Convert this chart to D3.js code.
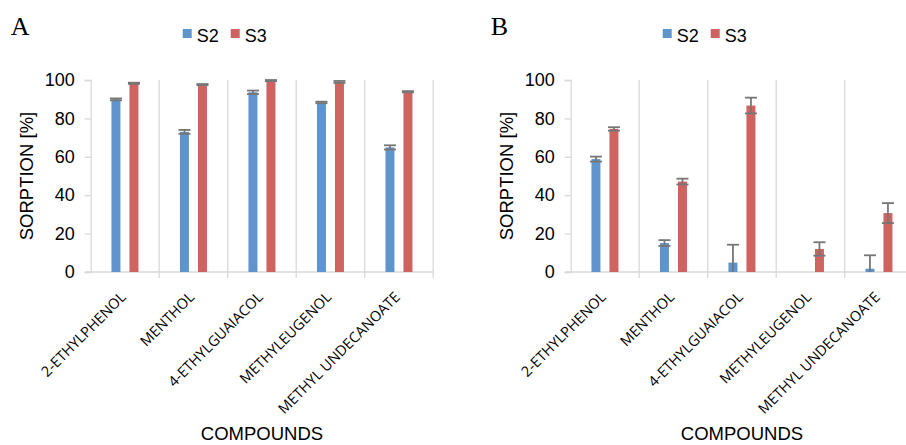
<!DOCTYPE html>
<html lang="en">
<head>
<meta charset="UTF-8">
<title>Sorption</title>
<script src="https://d3js.org/d3.v7.min.js"></script>
<style>
  body { margin: 0; background: #fff; }
  text { font-family: "Liberation Sans", Arial, sans-serif; fill: #000; }
</style>
</head>
<body>
<div id="chart"></div>
<script>
// compounds on the x axis
var compounds = ["2-ETHYLPHENOL", "MENTHOL", "4-ETHYLGUAIACOL", "METHYLEUGENOL", "METHYL UNDECANOATE"];
var seriesNames = ["S2", "S3"];
var yTicks = [0, 20, 40, 60, 80, 100];

// panel A
var s2A = [89.9, 73.0, 93.6, 88.3, 64.9];
var s3A = [98.3, 97.6, 99.7, 99.0, 93.9];
var s2AErr = [0.5, 1.0, 0.9, 0.4, 1.1];
var s3AErr = [0.3, 0.3, 0.3, 0.5, 0.3];

// panel B
var s2B = [58.8, 15.1, 4.9, 0, 1.7];
var s3B = [74.5, 47.1, 86.7, 12.0, 30.7];
var s2BErr = [1.3, 1.5, 9.3, 0, 7.0];
var s3BErr = [0.9, 1.5, 4.1, 3.5, 5.2];

var colors = { S2: "#5f95cc", S3: "#cf6360" };

var svg = d3.select("#chart").append("svg")
    .attr("width", 906)
    .attr("height", 445);

function drawPanel(left, label, s2, s3, s2Err, s3Err) {
    var plotW = 342.5, top = 80, bottom = 272;
    var g = svg.append("g").attr("transform", "translate(" + left + ",0)");

    var x = d3.scaleBand().domain(compounds).range([0, plotW]).padding(0);
    var xs = d3.scaleBand().domain(seriesNames).range([-13.5, 13.5]).paddingInner(0.5);
    var y = d3.scaleLinear().domain([0, 100]).range([bottom, top]);

    // vertical gridlines at category boundaries
    g.selectAll(".grid")
        .data(compounds)
        .enter().append("line")
        .attr("x1", function(d) { return x(d) + x.bandwidth(); })
        .attr("x2", function(d) { return x(d) + x.bandwidth(); })
        .attr("y1", top)
        .attr("y2", bottom + 6)
        .attr("stroke", "#d9d9d9")
        .attr("stroke-width", 1.3);

    // y axis
    var yAxis = g.append("g")
        .call(d3.axisLeft(y).tickValues(yTicks).tickSize(6).tickPadding(10));
    yAxis.select(".domain").attr("stroke", "#d9d9d9").attr("stroke-width", 1.3);
    yAxis.selectAll(".tick line").attr("stroke", "#d9d9d9").attr("stroke-width", 1.3);
    yAxis.selectAll(".tick text")
        .style("font-family", "'Liberation Sans', Arial, sans-serif")
        .style("font-size", "18px")
        .attr("fill", "#000");

    // baseline
    g.append("line")
        .attr("x1", -6).attr("x2", plotW)
        .attr("y1", y(0)).attr("y2", y(0))
        .attr("stroke", "#d9d9d9")
        .attr("stroke-width", 1.3);

    var rows = [];
    compounds.forEach(function(c, i) {
        rows.push({ c: c, s: "S2", v: s2[i], e: s2Err[i] });
        rows.push({ c: c, s: "S3", v: s3[i], e: s3Err[i] });
    });

    g.selectAll(".bar")
        .data(rows)
        .enter().append("rect")
        .attr("x", function(d) { return x(d.c) + x.bandwidth() / 2 + xs(d.s); })
        .attr("y", function(d) { return y(d.v); })
        .attr("width", xs.bandwidth())
        .attr("height", function(d) { return y(0) - y(d.v); })
        .attr("fill", function(d) { return colors[d.s]; });

    // error bars
    var errRows = rows.filter(function(d) { return d.e > 0; });
    var cx = function(d) { return x(d.c) + x.bandwidth() / 2 + xs(d.s) + xs.bandwidth() / 2; };
    var eb = g.selectAll(".err").data(errRows).enter().append("g")
        .attr("stroke", "#767676")
        .attr("stroke-width", 1.8);
    eb.append("line")
        .attr("x1", cx).attr("x2", cx)
        .attr("y1", function(d) { return y(d.v + d.e); })
        .attr("y2", function(d) { return y(Math.max(0, d.v - d.e)); });
    eb.append("line")
        .attr("x1", function(d) { return cx(d) - 6; })
        .attr("x2", function(d) { return cx(d) + 6; })
        .attr("y1", function(d) { return y(d.v + d.e); })
        .attr("y2", function(d) { return y(d.v + d.e); });
    eb.filter(function(d) { return d.v - d.e >= 0; }).append("line")
        .attr("x1", function(d) { return cx(d) - 6; })
        .attr("x2", function(d) { return cx(d) + 6; })
        .attr("y1", function(d) { return y(d.v - d.e); })
        .attr("y2", function(d) { return y(d.v - d.e); });

    // category labels
    g.selectAll(".xlab")
        .data(compounds)
        .enter().append("text")
        .attr("transform", function(d) {
            return "translate(" + (x(d) + x.bandwidth() / 2 + 2) + ",298) rotate(-45)";
        })
        .attr("text-anchor", "end")
        .style("font-family", "'Open Sans', sans-serif")
        .style("font-size", "14.5px")
        .text(function(d) { return d; });

    // axis titles
    g.append("text")
        .attr("transform", "translate(-58," + ((top + bottom) / 2) + ") rotate(-90)")
        .attr("text-anchor", "middle")
        .style("font-size", "18.5px")
        .text("SORPTION [%]");
    g.append("text")
        .attr("x", plotW / 2)
        .attr("y", 440)
        .attr("text-anchor", "middle")
        .style("font-size", "18.5px")
        .text("COMPOUNDS");

    // legend
    seriesNames.forEach(function(s, i) {
        g.append("rect")
            .attr("x", 92 + i * 48).attr("y", 29)
            .attr("width", 9).attr("height", 9)
            .attr("fill", colors[s]);
        g.append("text")
            .attr("x", 106 + i * 48).attr("y", 42)
            .style("font-size", "18px")
            .text(s);
    });

    // panel letter
    g.append("text")
        .attr("x", -80).attr("y", 35)
        .style("font-family", "'Liberation Serif', 'Times New Roman', serif")
        .style("font-size", "26px")
        .text(label);
}

drawPanel(90.7, "A", s2A, s3A, s2AErr, s3AErr);
drawPanel(570.7, "B", s2B, s3B, s2BErr, s3BErr);
</script>
</body>
</html>
